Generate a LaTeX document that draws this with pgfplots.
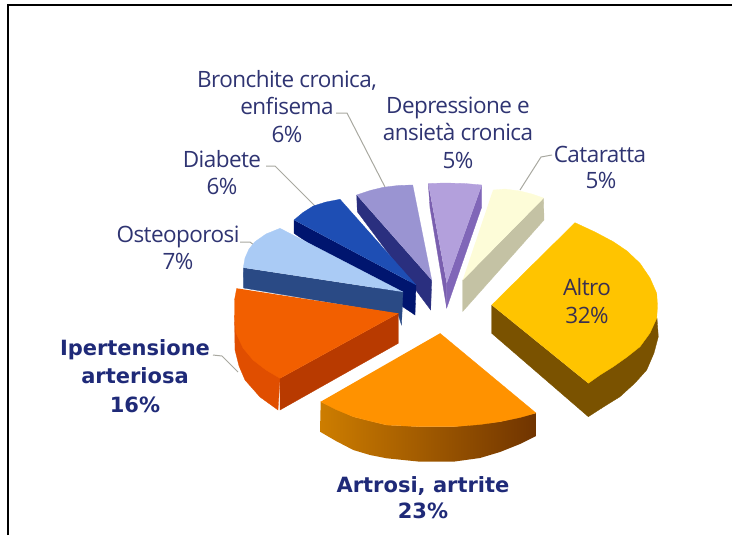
\documentclass[border=0pt]{standalone}
\usepackage{pgfplots}
\pgfplotsset{compat=1.18}
\usepackage{fontspec}
\setmainfont{Open Sans}[LetterSpace=-2.5]
\newfontfamily\boldf{DejaVu Sans Bold}
\definecolor{txt}{HTML}{2F3472}
\definecolor{txa}{HTML}{3A2F50}
\definecolor{txb}{HTML}{1F2A78}
\definecolor{lead}{HTML}{A8A8A0}
\newcommand{\slab}[3]{\node[anchor=base,text=txt,font=\fontsize{22.5}{24}\selectfont,inner sep=0pt] at (axis cs:#1,#2) {#3};}
\newcommand{\alab}[3]{\node[anchor=base,text=txa,font=\fontsize{22.5}{24}\selectfont,inner sep=0pt] at (axis cs:#1,#2) {#3};}
\newcommand{\blab}[3]{\node[anchor=base,text=txb,font=\fontsize{21}{22}\boldf,inner sep=0pt] at (axis cs:#1,#2) {#3};}
\begin{document}
\begin{tikzpicture}
\begin{axis}[
  width=733pt,height=536pt,scale only axis,
  xmin=0,xmax=733,ymin=0,ymax=536,y dir=reverse,
  hide axis,clip=false,
  every axis plot/.append style={no markers,line width=0.3pt}
]
% page corners
\addplot[draw=none] coordinates {(0,0) (733,536)};
% frame
\addplot[black,line width=2pt] coordinates {(7.5,535) (7.5,5) (732,5)};
% leaders
\addplot[lead,line width=1pt] coordinates {(240,242) (250,242) (258,248)};
\addplot[lead,line width=1pt] coordinates {(266,166) (275,166) (315,206)};
\addplot[lead,line width=1pt] coordinates {(336,113) (347,113) (385,187)};
\addplot[lead,line width=1pt] coordinates {(552,155) (541,157) (520,190)};
\addplot[lead,line width=1pt] coordinates {(213,355) (222,356) (238,372)};
% Cataratta
\addplot[fill={rgb,255:red,196;green,194;blue,164},draw={rgb,255:red,196;green,194;blue,164}] coordinates {(543.5,198) (544,220) (462.7,311.5) (462.7,280)};
\addplot[fill={rgb,255:red,253;green,252;blue,216},draw={rgb,255:red,253;green,252;blue,216}] coordinates {(493,190) (505,189) (520,191) (532,194) (543.5,198) (462.7,280)};
% Depressione
\addplot[fill={rgb,255:red,122;green,95;blue,175},draw={rgb,255:red,122;green,95;blue,175}] coordinates {(428.3,183.5) (430,208) (446.7,308) (446.7,283)};
\addplot[fill={rgb,255:red,128;green,102;blue,184},draw={rgb,255:red,128;green,102;blue,184}] coordinates {(481.7,185) (481.7,207) (446.7,308) (446.7,283)};
\addplot[fill={rgb,255:red,179;green,160;blue,220},draw={rgb,255:red,179;green,160;blue,220}] coordinates {(428.3,183.5) (445,183) (465,183.5) (481.7,185) (446.7,283)};
% Bronchite
\addplot[fill={rgb,255:red,42;green,47;blue,127},draw={rgb,255:red,42;green,47;blue,127}] coordinates {(356.7,195) (357.3,211.7) (430.7,310) (431.7,280)};
\addplot[fill={rgb,255:red,154;green,148;blue,210},draw={rgb,255:red,154;green,148;blue,210}] coordinates {(356.7,195) (370,190.5) (383.3,187.3) (398,185.5) (412.7,185) (431.7,280)};
% Diabete
\addplot[fill={rgb,255:red,0;green,21;blue,111},draw={rgb,255:red,0;green,21;blue,111}] coordinates {(294,220) (294,233.3) (415,315) (416,285)};
\addplot[fill={rgb,255:red,30;green,78;blue,180},draw={rgb,255:red,30;green,78;blue,180}] coordinates {(294,220) (303,212.5) (313.3,206) (326,202) (340,199.3) (416,285)};
% Osteoporosi
\addplot[fill={rgb,255:red,42;green,74;blue,133},draw={rgb,255:red,42;green,74;blue,133}] coordinates {(243.3,267.7) (243.5,288) (398,314) (401.5,325) (403,292)};
\addplot[fill={rgb,255:red,170;green,203;blue,245},draw={rgb,255:red,170;green,203;blue,245}] coordinates {(243.3,267.7) (245,258) (249,249) (255,241.7) (266,234) (280,228.3) (403,292)};
% Ipertensione
\addplot[fill={rgb,255:red,224;green,78;blue,0},draw={rgb,255:red,224;green,78;blue,0}] coordinates {(234.5,315) (235,350) (239,366) (245,380) (260,397) (278,410) (280,378.3)};
\addplot[fill={rgb,255:red,184;green,58;blue,0},draw={rgb,255:red,184;green,58;blue,0}] coordinates {(280,378.3) (280,410) (398.3,343.3) (398.3,313.3)};
\addplot[fill={rgb,255:red,242;green,95;blue,0},draw={rgb,255:red,242;green,95;blue,0}] coordinates {(236.7,288.3) (234.5,300) (234.5,315) (236,333) (243,348) (253,360) (266,370) (280,378.3) (398.3,313.3)};
% Artrosi
\addplot[draw=none,left color={rgb,255:red,205;green,125;blue,0},right color={rgb,255:red,112;green,52;blue,0}] coordinates {(320.7,401.7) (320,431.7) (336,441) (353.3,450) (370,455) (386.7,458.3) (420,461.7) (453.3,461.7) (480,458) (500,452) (520,444) (536,436) (536,413) (500,421.7) (453.3,426.7) (420,426.7) (386.7,425) (353.3,416.7)};
\addplot[fill={rgb,255:red,255;green,146;blue,0},draw={rgb,255:red,255;green,146;blue,0}] coordinates {(320.7,401.7) (336,409.5) (353.3,416.7) (370,421) (386.7,425) (420,426.7) (453.3,426.7) (480,424.5) (500,421.7) (520,417.5) (536,413) (440,333.3)};
% Altro
\addplot[fill={rgb,255:red,122;green,82;blue,0},draw={rgb,255:red,122;green,82;blue,0}] coordinates {(491.7,305) (491.7,333.3) (588.3,416.7) (605,406) (620,396.7) (635,383) (646.7,370) (654,353) (658.3,336.7) (657,318) (588.3,383.3)};
\addplot[fill={rgb,255:red,255;green,196;blue,0},draw={rgb,255:red,255;green,196;blue,0}] coordinates {(491.7,305) (575,222.7) (595,232) (613.3,241.7) (627,251) (640,263.3) (650,278) (656.7,293.3) (657.5,306) (656.7,318.3) (650,333) (640,346.7) (627,357) (613.3,366.7) (600,375) (588.3,383.3)};
% labels
\slab{287}{87}{Bronchite cronica,}
\slab{287}{114}{enfisema}
\slab{287}{142}{6\%}
\slab{222}{167}{Diabete}
\slab{222}{194}{6\%}
\slab{178}{242}{Osteoporosi}
\slab{178}{269}{7\%}
\slab{458}{113}{Depressione e}
\slab{458}{140}{ansietà cronica}
\slab{458}{168}{5\%}
\slab{600}{162}{Cataratta}
\slab{601}{188}{5\%}
\alab{587}{295}{Altro}
\alab{587}{323}{32\%}
\blab{135}{355}{Ipertensione}
\blab{135}{383}{arteriosa}
\blab{135}{412}{16\%}
\blab{423}{492}{Artrosi, artrite}
\blab{423}{518}{23\%}
\end{axis}
\end{tikzpicture}
\end{document}
